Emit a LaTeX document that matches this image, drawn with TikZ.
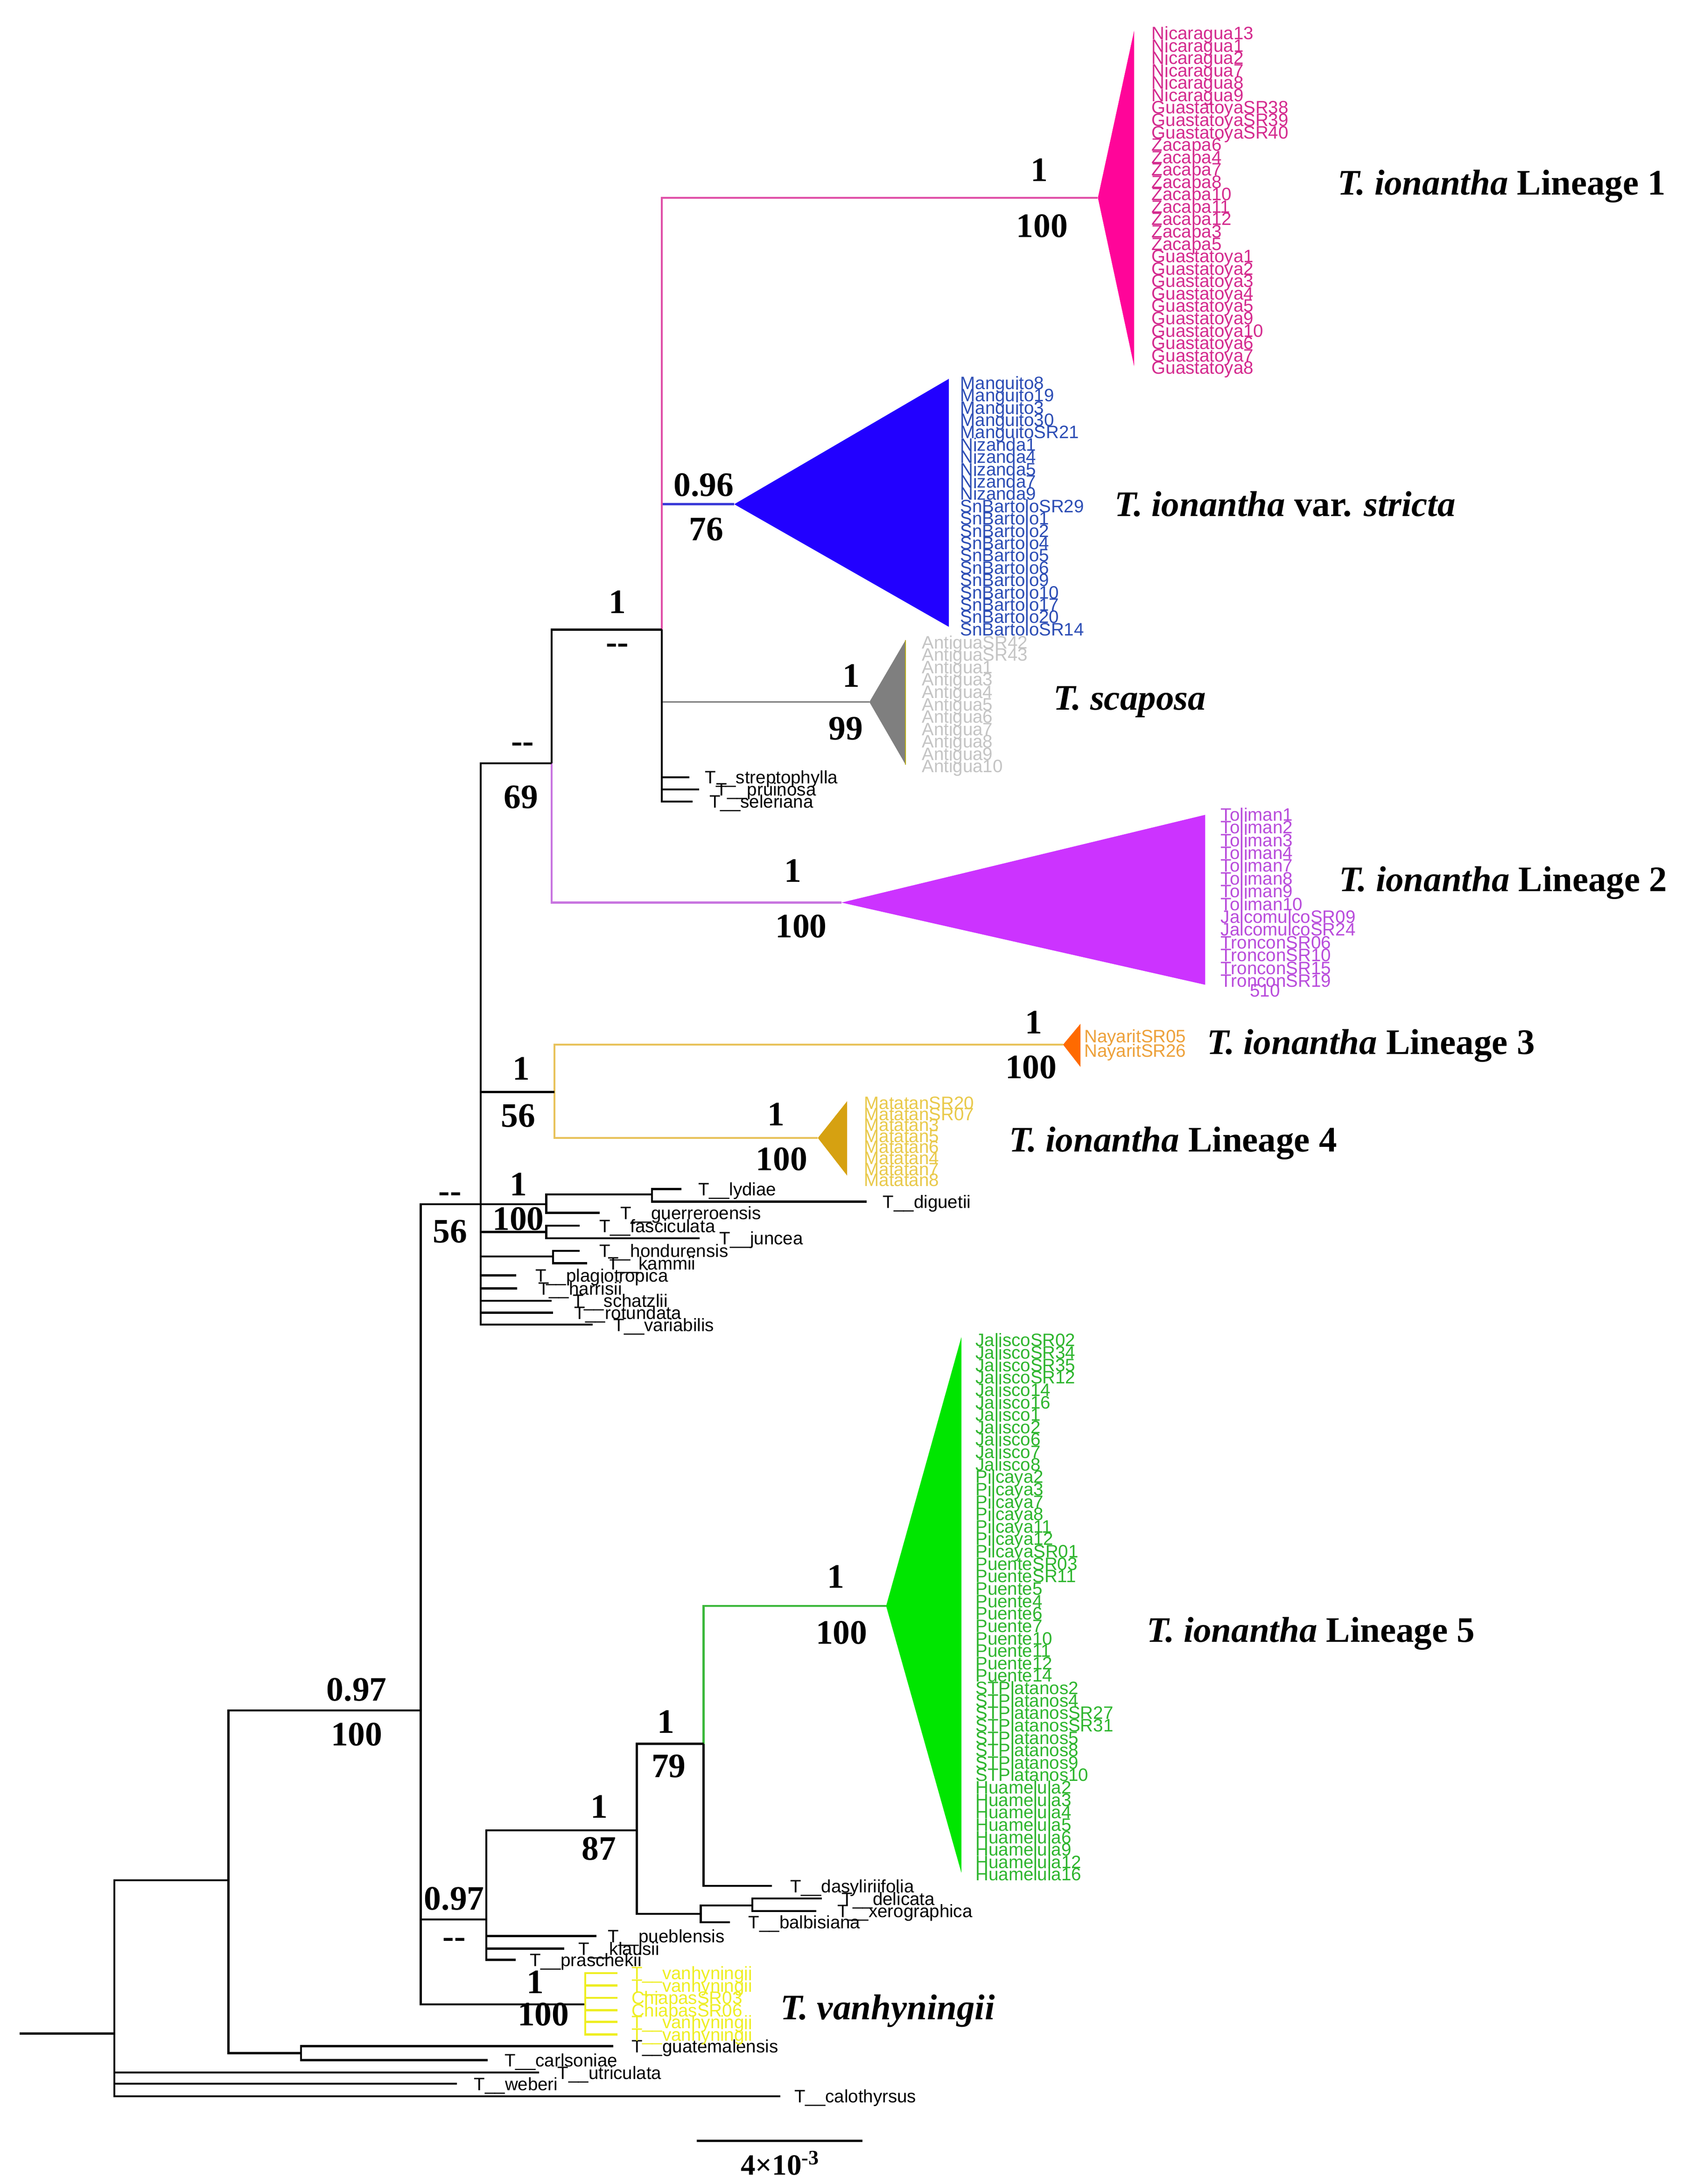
\documentclass[tikz,border=0pt]{standalone}
\usepackage{fontspec}
\setmainfont{Liberation Serif}
\newfontfamily\tipfont{Liberation Sans}
\usetikzlibrary{positioning}

\definecolor{onefill}{HTML}{FF0599}
\definecolor{onetxt}{HTML}{D42A8E}
\definecolor{oneline}{HTML}{E050A8}
\definecolor{strfill}{HTML}{2200FF}
\definecolor{strtxt}{HTML}{2C4DB5}
\definecolor{strline}{HTML}{3A3AD8}
\definecolor{scapfill}{HTML}{7F7F7F}
\definecolor{scaptxt}{HTML}{C4C4C4}
\definecolor{twofill}{HTML}{CC33FF}
\definecolor{twotxt}{HTML}{B84BDB}
\definecolor{twoline}{HTML}{C875E0}
\definecolor{threefill}{HTML}{FF6A00}
\definecolor{threetxt}{HTML}{EDA13A}
\definecolor{yelline}{HTML}{E8C25A}
\definecolor{fourfill}{HTML}{D6A111}
\definecolor{fourtxt}{HTML}{E9C94A}
\definecolor{fivefill}{HTML}{00E600}
\definecolor{fivetxt}{HTML}{2DB52D}
\definecolor{fiveline}{HTML}{3CB83C}
\definecolor{vhcol}{HTML}{EEEE22}

\tikzset{
  branch/.style={line width=0.45mm},
  taxon/.style={font=\tipfont\fontsize{11}{11}\selectfont, inner sep=0pt,
    text height=8pt, text depth=0pt, anchor=west},
  sup/.style={font=\bfseries\fontsize{21}{21}\selectfont, inner sep=0pt,
    text height=14pt, text depth=0pt},
  lineage/.style={font=\bfseries\fontsize{22}{22}\selectfont, inner sep=0pt,
    text height=15pt, text depth=0pt, anchor=west}
}

\begin{document}
\begin{tikzpicture}[x=0.3mm, y=-0.3mm]
\useasboundingbox (0,0) rectangle (1212,1568);

% internal nodes
\coordinate (stub) at (14,1460);
\coordinate (root) at (82,1460);
\coordinate (n1) at (164,1350);
\coordinate (n2) at (302,1228);
\coordinate (cg) at (216,1474);
\coordinate (n3) at (345,864.5);
\coordinate (nvb) at (349,1378);
\coordinate (vh) at (420,1439);
\coordinate (n4) at (396,548);
\coordinate (n5) at (475,452);
\coordinate (n34) at (398,784);
\coordinate (p) at (392,864.5);
\coordinate (ld) at (468,857.6);
\coordinate (f) at (392,884.5);
\coordinate (hk) at (397,902);
\coordinate (k) at (457,1314);
\coordinate (m) at (505,1252);
\coordinate (d) at (503,1374);
\coordinate (e) at (540,1368);
% collapsed clades
\coordinate (lone) at (788,142);
\coordinate (stri) at (527,362);
\coordinate (scap) at (624,504);
\coordinate (ltwo) at (604,648);
\coordinate (lthree) at (763,750);
\coordinate (lfour) at (587,817);
\coordinate (lfive) at (636,1153);

\fill[onefill] (lone) -- (814,22) -- (814,263) -- cycle;
\fill[strfill] (stri) -- (681,272) -- (681,450) -- cycle;
\fill[scapfill] (scap) -- (650,459.5) -- (650,549) -- cycle;
\draw[olive!70!yellow, line width=0.2mm] (650,459.5) -- (650,549);
\fill[twofill] (ltwo) -- (865,585) -- (865,707) -- cycle;
\fill[threefill] (lthree) -- (775.5,735) -- (775.5,766) -- cycle;
\fill[fourfill] (lfour) -- (608,790.6) -- (608,844) -- cycle;
\fill[fivefill] (lfive) -- (690,960) -- (690,1344.5) -- cycle;

% coloured branches
\draw[branch, twoline] (n4) |- (ltwo);
\draw[branch, strline] (n5) |- (stri);
\draw[branch, oneline] (n5) |- (lone);
\draw[branch, scapfill, line width=0.3mm] (n5) |- (scap);
\draw[branch, yelline] (n34) |- (lthree);
\draw[branch, yelline] (n34) |- (lfour);
\draw[branch, fiveline] (m) |- (lfive);

% backbone
\draw[branch] (stub) -- (root);
\draw[branch] (root) |- (n1);
\draw[branch] (n1) |- (n2);
\draw[branch] (n1) |- (cg);
\draw[branch] (n2) |- (n3);
\draw[branch] (n2) |- (nvb);
\draw[branch] (n2) |- (vh);
\draw[branch] (n3) |- (n4);
\draw[branch] (n3) |- (n34);
\draw[branch] (n3) |- (p);
\draw[branch] (p) |- (ld);
\draw[branch] (n3) |- (f);
\draw[branch] (n3) |- (hk);
\draw[branch] (n4) |- (n5);
\draw[branch] (nvb) |- (k);
\draw[branch] (k) |- (m);
\draw[branch] (k) |- (d);
\draw[branch] (d) |- (e);

% single taxa
\foreach \up/\nm/\px/\py/\gap/\txt in {
  n5/strep/494.8/558/3.3/streptophylla, n5/pruin/501.8/566.7/3.6/pruinosa,
  n5/seler/497/575.4/3.6/seleriana,
  ld/lyd/489/853.6/3.6/lydiae, ld/digu/622/862.7/3.45/diguetii,
  p/guer/430.5/870.7/4.35/guerreroensis,
  f/fasc/416/880/4.2/fasciculata, f/junc/502/889/4.2/juncea,
  hk/hond/416/898/4.2/hondurensis, hk/kamm/421.5/907/4.35/kammii,
  n3/plag/370.5/915.7/4.05/plagiotropica, n3/harr/371/925/4.5/harrisii,
  n3/scha/396/933.8/4.5/schatzlii, n3/rotu/397/942.5/4.5/rotundata,
  n3/vari/425.5/951/4.35/variabilis,
  nvb/pueb/428/1390/2.4/pueblensis, nvb/klau/405/1399/3/klausii,
  nvb/pras/370/1407/3/praschekii,
  m/dasy/554/1354/3.9/dasyliriifolia,
  e/deli/590/1363/4.2/delicata, e/xero/586/1372/4.5/xerographica,
  d/balb/524/1380/3.9/balbisiana,
  cg/guat/440/1469/3.9/guatemalensis, cg/carl/350/1479/3.6/carlsoniae,
  root/utri/387/1488/3.9/utriculata, root/webe/328/1496/3.6/weberi,
  root/calo/560/1505/3/calothyrsus}{
  \coordinate (\nm) at (\px,\py);
  \draw[branch] (\up) |- (\nm);
  \node[taxon, right=\gap mm of \nm] (\nm-l) {T\_\_\txt};
}

% T. vanhyningii
\foreach \i/\py/\txt in {1/1416.5/T\_\_vanhyningii, 2/1425.4/T\_\_vanhyningii,
  3/1434.3/ChiapasSR03, 4/1443.2/ChiapasSR06, 5/1451.6/T\_\_vanhyningii,
  6/1460.6/T\_\_vanhyningii}{
  \coordinate (vh\i) at (443,\py);
  \draw[branch, vhcol] (vh) |- (vh\i);
  \node[taxon, vhcol, right=3mm of vh\i] (vh\i-l) {\txt};
}

% clade members
\foreach \t [count=\i] in {Nicaragua13, Nicaragua1, Nicaragua2, Nicaragua7,
  Nicaragua8, Nicaragua9, GuastatoyaSR38, GuastatoyaSR39, GuastatoyaSR40,
  Zacapa6, Zacapa4, Zacapa7, Zacapa8, Zacapa10, Zacapa11, Zacapa12, Zacapa3,
  Zacapa5, Guastatoya1, Guastatoya2, Guastatoya3, Guastatoya4, Guastatoya5,
  Guastatoya9, Guastatoya10, Guastatoya6, Guastatoya7, Guastatoya8}
  \node[taxon, onetxt] (one-\i) at (826.4,{23.6+8.9*(\i-1)}) {\t};
\foreach \t [count=\i] in {Manguito8, Manguito19, Manguito3, Manguito30,
  ManguitoSR21, Nizanda1, Nizanda4, Nizanda5, Nizanda7, Nizanda9,
  SnBartoloSR29, SnBartolo1, SnBartolo2, SnBartolo4, SnBartolo5, SnBartolo6,
  SnBartolo9, SnBartolo10, SnBartolo17, SnBartolo20, SnBartoloSR14}
  \node[taxon, strtxt] (str-\i) at (689,{274.8+8.84*(\i-1)}) {\t};
\foreach \t [count=\i] in {AntiguaSR42, AntiguaSR43, Antigua1, Antigua3,
  Antigua4, Antigua5, Antigua6, Antigua7, Antigua8, Antigua9, Antigua10}
  \node[taxon, scaptxt] (scap-\i) at (661.5,{461+8.9*(\i-1)}) {\t};
\foreach \t [count=\i] in {Toliman1, Toliman2, Toliman3, Toliman4, Toliman7,
  Toliman8, Toliman9, Toliman10, JalcomulcoSR09, JalcomulcoSR24,
  TronconSR06, TronconSR10, TronconSR15, TronconSR19}
  \node[taxon, twotxt] (two-\i) at (876,{584.6+9.18*(\i-1)}) {\t};
\node[taxon, twotxt] (two-x) at (897,711) {510};
\foreach \t [count=\i] in {NayaritSR05, NayaritSR26}
  \node[taxon, threetxt] (three-\i) at (778,{743.7+10.6*(\i-1)}) {\t};
\foreach \t [count=\i] in {MatatanSR20, MatatanSR07, Matatan3, Matatan5,
  Matatan6, Matatan4, Matatan7, Matatan8}
  \node[taxon, fourtxt] (four-\i) at (620,{791.7+7.9*(\i-1)}) {\t};
\foreach \t [count=\i] in {JaliscoSR02, JaliscoSR34, JaliscoSR35, JaliscoSR12,
  Jalisco14, Jalisco16, Jalisco1, Jalisco2, Jalisco6, Jalisco7, Jalisco8,
  Pilcaya2, Pilcaya3, Pilcaya7, Pilcaya8, Pilcaya11, Pilcaya12, PilcayaSR01,
  PuenteSR03, PuenteSR11, Puente5, Puente4, Puente6, Puente7, Puente10,
  Puente11, Puente12, Puente14, STPlatanos2, STPlatanos4, STPlatanosSR27,
  STPlatanosSR31, STPlatanos5, STPlatanos8, STPlatanos9, STPlatanos10,
  Huamelula2, Huamelula3, Huamelula4, Huamelula5, Huamelula6, Huamelula9,
  Huamelula12, Huamelula16}
  \node[taxon, fivetxt] (five-\i) at (700,{962+8.92*(\i-1)}) {\t};

% support values
\node[sup] (s-one-a) at (746,122) {1};
\node[sup] (s-one-b) at (748,162) {100};
\node[sup] (s-str-a) at (505,348) {0.96};
\node[sup] (s-str-b) at (507,380) {76};
\node[sup] (s-n5-a) at (443,432) {1};
\node[sup] (s-n5-b) at (443,461) {-{}-};
\node[sup] (s-n4-a) at (375,532) {-{}-};
\node[sup] (s-n4-b) at (374,572) {69};
\node[sup] (s-scap-a) at (611,485) {1};
\node[sup] (s-scap-b) at (607,523) {99};
\node[sup] (s-two-a) at (569,625) {1};
\node[sup] (s-two-b) at (575,665) {100};
\node[sup] (s-n3-a) at (323,855) {-{}-};
\node[sup] (s-n3-b) at (323,884) {56};
\node[sup] (s-p-a) at (372,850) {1};
\node[sup] (s-p-b) at (372,875) {100};
\node[sup] (s-n34-a) at (374,767) {1};
\node[sup] (s-n34-b) at (372,801) {56};
\node[sup] (s-three-a) at (742,734) {1};
\node[sup] (s-three-b) at (740,766) {100};
\node[sup] (s-four-a) at (557,800) {1};
\node[sup] (s-four-b) at (561,832) {100};
\node[sup] (s-n2-a) at (256,1213) {0.97};
\node[sup] (s-n2-b) at (256,1245) {100};
\node[sup] (s-five-a) at (600,1132) {1};
\node[sup] (s-five-b) at (604,1172) {100};
\node[sup] (s-m-a) at (478,1236) {1};
\node[sup] (s-m-b) at (480,1268) {79};
\node[sup] (s-k-a) at (430,1297) {1};
\node[sup] (s-k-b) at (430,1327) {87};
\node[sup] (s-nvb-a) at (326,1363) {0.97};
\node[sup] (s-nvb-b) at (326,1390) {-{}-};
\node[sup] (s-vh-a) at (384,1423) {1};
\node[sup] (s-vh-b) at (390,1446) {100};

% clade names
\node[lineage] (lab-one) at (960,131) {\textit{T. ionantha} Lineage 1};
\node[lineage] (lab-str) at (800,362) {\textit{T. ionantha} var. \textit{stricta}};
\node[lineage] (lab-scap) at (756,501) {\textit{T. scaposa}};
\node[lineage] (lab-two) at (961,631) {\textit{T. ionantha} Lineage 2};
\node[lineage] (lab-three) at (866,748) {\textit{T. ionantha} Lineage 3};
\node[lineage] (lab-four) at (724,818) {\textit{T. ionantha} Lineage 4};
\node[lineage] (lab-five) at (823,1170) {\textit{T. ionantha} Lineage 5};
\node[lineage] (lab-vh) at (560,1441) {\textit{T. vanhyningii}};

% scale bar
\coordinate (sb-a) at (500,1537);
\coordinate (sb-b) at (619,1537);
\draw[branch] (sb-a) -- (sb-b);
\node[font=\bfseries\fontsize{18}{18}\selectfont, inner sep=0pt] (sb-l) at (560,1553) {4×10\textsuperscript{-3}};
\end{tikzpicture}
\end{document}
